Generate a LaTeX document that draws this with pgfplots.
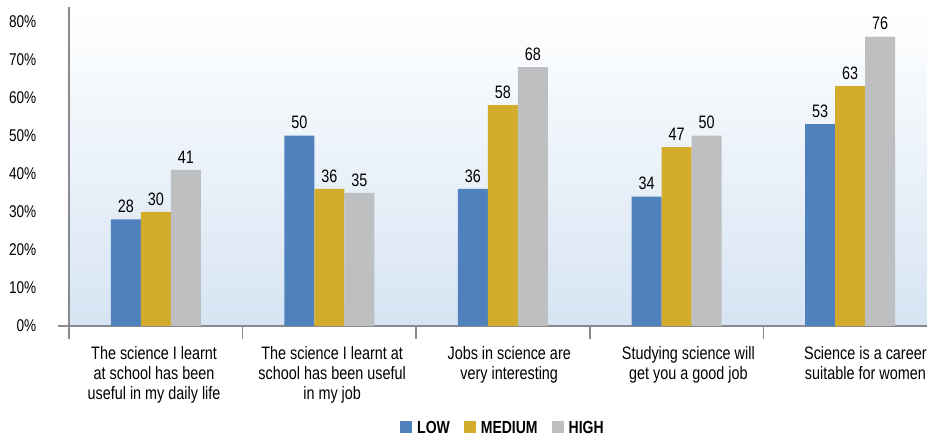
\documentclass[border=0pt]{standalone}
\usepackage{pgfplots}
\pgfplotsset{compat=1.18}
\usepackage{fontspec}
\setmainfont{Liberation Sans}[FakeStretch=0.8]

\definecolor{lowc}{HTML}{4F81BD}
\definecolor{medc}{HTML}{D4AC2B}
\definecolor{highc}{HTML}{BEBFC1}
\definecolor{axc}{HTML}{8A8A8E}
\definecolor{bgc}{HTML}{D6E4F3}

\begin{document}
\begin{tikzpicture}
  \begin{axis}[
      scale only axis,
      width=858pt, height=319pt,
      xmin=-0.5, xmax=4.443,
      ymin=0, ymax=83.8,
      ybar=0pt, bar width=30pt,
      axis x line=bottom, axis y line=left,
      axis line style={-, axc, line width=1.6pt},
      x axis line style={shorten <=-11pt},
      axis background/.style={shade, top color=white, bottom color=bgc},
      ytick={0,10,...,80},
      yticklabel={\pgfmathprintnumber{\tick}\%},
      /pgf/number format/assume math mode=true,
      yticklabel style={font=\fontsize{17}{19}\selectfont, anchor=east, xshift=-27pt},
      ytick style={draw=none},
      xtick={-0.01,1.016,2.036,3.068,4.088},
      major x tick style={draw=none},
      minor xtick={-0.5,0.5,1.5,2.5,3.5},
      minor tick length=13pt,
      xtick align=outside,
      minor x tick style={axc, line width=1.6pt},
      xticklabels={{The science I learnt\\at school has been\\useful in my daily life},
                   {The science I learnt at\\school has been useful\\in my job},
                   {Jobs in science are\\very interesting},
                   {Studying science will\\get you a good job},
                   {Science is a career\\suitable for women}},
      xticklabel style={align=center, anchor=north, yshift=-13pt,
                        font=\fontsize{18}{20}\selectfont},
      nodes near coords,
      nodes near coords style={font=\fontsize{18}{20}\selectfont, text=black, yshift=3pt},
      legend style={at={(axis cs:2,0)}, anchor=north, yshift=-91pt,
                    draw=none, fill=none, legend columns=-1,
                    font=\fontsize{17.5}{19}\selectfont\bfseries,
                    /tikz/every odd column/.append style={column sep=3pt},
                    /tikz/every even column/.append style={column sep=12pt}},
      legend image code/.code={\fill[#1] (0pt,-5pt) rectangle (12pt,7pt);},
    ]
    \addplot[fill=lowc, draw=none] coordinates {(0,28) (1,50) (2,36) (3,34) (4,53)};
    \addplot[fill=medc, draw=none] coordinates {(0,30) (1,36) (2,58) (3,47) (4,63)};
    \addplot[fill=highc, draw=none] coordinates {(0,41) (1,35) (2,68) (3,50) (4,76)};
    \legend{LOW, MEDIUM, HIGH}
    \coordinate (bl) at (rel axis cs:0,0);
    \coordinate (tr) at (rel axis cs:1,1);
  \end{axis}
  \pgfresetboundingbox
  \path[use as bounding box] ([xshift=-69pt,yshift=-112pt]bl) rectangle ([yshift=7pt]tr);
\end{tikzpicture}
\end{document}
